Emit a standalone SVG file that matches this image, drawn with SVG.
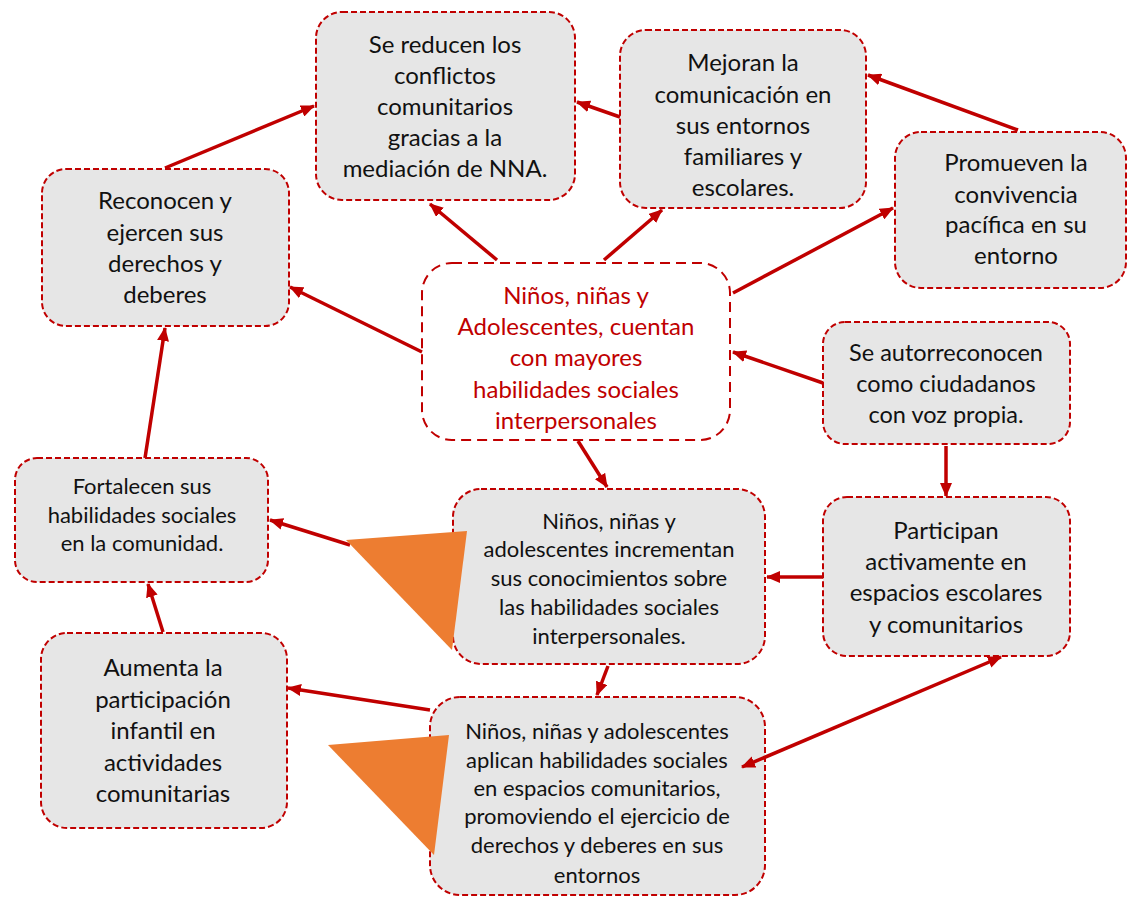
<svg xmlns="http://www.w3.org/2000/svg" width="1128" height="897" viewBox="0 0 1128 897">
<defs>
<style>
.box{fill:#E6E6E6;stroke:#C00000;stroke-width:2;stroke-dasharray:6 3}
.cbox{fill:#FFFFFF;stroke:#C00000;stroke-width:2;stroke-dasharray:10 6}
.t{font-family:Lato,"Liberation Sans",sans-serif;fill:#111111;text-anchor:middle}
.tr{fill:#C00000}
.c line{stroke:#C00000;stroke-width:3.5;marker-end:url(#ah)}
.tri{fill:#ED7D31}
</style>
<marker id="ah" markerUnits="userSpaceOnUse" markerWidth="14" markerHeight="12" refX="13" refY="6" orient="auto-start-reverse" viewBox="0 0 14 12">
<path d="M0,0 L14,6 L0,12 z" fill="#C00000"/>
</marker>
</defs>
<rect width="1128" height="897" fill="#FFFFFF"/>
<g id="n1"><rect class="box" x="316" y="12" width="259" height="188" rx="26"/>
<text class="t" font-size="24"><tspan x="445" y="53">Se reducen los</tspan><tspan x="445" y="84">conflictos</tspan><tspan x="445" y="115">comunitarios</tspan><tspan x="445" y="146">gracias a la</tspan><tspan x="445" y="177">mediación de NNA.</tspan></text></g>
<g id="n2"><rect class="box" x="620" y="30" width="246" height="178" rx="26"/>
<text class="t" font-size="24"><tspan x="743" y="71">Mejoran la</tspan><tspan x="743" y="103">comunicación en</tspan><tspan x="743" y="134">sus entornos</tspan><tspan x="743" y="165">familiares y</tspan><tspan x="743" y="196">escolares.</tspan></text></g>
<g id="n3"><rect class="box" x="895" y="132" width="231" height="156" rx="26"/>
<text class="t" font-size="24"><tspan x="1016" y="171">Promueven la</tspan><tspan x="1016" y="203">convivencia</tspan><tspan x="1016" y="233">pacífica en su</tspan><tspan x="1016" y="264">entorno</tspan></text></g>
<g id="n4"><rect class="box" x="42" y="169" width="247" height="157" rx="24"/>
<text class="t" font-size="24"><tspan x="165" y="209">Reconocen y</tspan><tspan x="165" y="241">ejercen sus</tspan><tspan x="165" y="272">derechos y</tspan><tspan x="165" y="303">deberes</tspan></text></g>
<g id="n5"><rect class="cbox" x="422" y="263" width="308" height="177" rx="30"/>
<text class="t tr" font-size="24"><tspan x="576" y="304">Niños, niñas y</tspan><tspan x="576" y="335">Adolescentes, cuentan</tspan><tspan x="576" y="366">con mayores</tspan><tspan x="576" y="398">habilidades sociales</tspan><tspan x="576" y="429">interpersonales</tspan></text></g>
<g id="n6"><rect class="box" x="823" y="322" width="247" height="122" rx="22"/>
<text class="t" font-size="23.5"><tspan x="946" y="361">Se autorreconocen</tspan><tspan x="946" y="392">como ciudadanos</tspan><tspan x="946" y="423">con voz propia.</tspan></text></g>
<g id="n7"><rect class="box" x="15" y="458" width="253" height="124" rx="22"/>
<text class="t" font-size="22"><tspan x="142" y="494">Fortalecen sus</tspan><tspan x="142" y="523">habilidades sociales</tspan><tspan x="142" y="551">en la comunidad.</tspan></text></g>
<g id="n8"><rect class="box" x="453" y="489" width="312" height="175" rx="28"/>
<text class="t" font-size="22"><tspan x="609" y="529">Niños, niñas y</tspan><tspan x="609" y="557">adolescentes incrementan</tspan><tspan x="609" y="586">sus conocimientos sobre</tspan><tspan x="609" y="615">las habilidades sociales</tspan><tspan x="609" y="644">interpersonales.</tspan></text></g>
<g id="n9"><rect class="box" x="823" y="497" width="247" height="159" rx="24"/>
<text class="t" font-size="24"><tspan x="946" y="539">Participan</tspan><tspan x="946" y="570">activamente en</tspan><tspan x="946" y="601">espacios escolares</tspan><tspan x="946" y="633">y comunitarios</tspan></text></g>
<g id="n10"><rect class="box" x="41" y="633" width="246" height="195" rx="26"/>
<text class="t" font-size="24"><tspan x="163" y="676">Aumenta la</tspan><tspan x="163" y="708">participación</tspan><tspan x="163" y="739">infantil en</tspan><tspan x="163" y="771">actividades</tspan><tspan x="163" y="802">comunitarias</tspan></text></g>
<g id="n11"><rect class="box" x="430" y="697" width="335" height="198" rx="30"/>
<text class="t" font-size="22"><tspan x="597" y="739">Niños, niñas y adolescentes</tspan><tspan x="597" y="768">aplican habilidades sociales</tspan><tspan x="597" y="796">en espacios comunitarios,</tspan><tspan x="597" y="824">promoviendo el ejercicio de</tspan><tspan x="597" y="853">derechos y deberes en sus</tspan><tspan x="597" y="883">entornos</tspan></text></g>
<g id="connectors" class="c">
<line x1="165" y1="168" x2="314" y2="106"/>
<line x1="620" y1="117" x2="577" y2="102"/>
<line x1="1018" y1="130" x2="868" y2="75"/>
<line x1="497" y1="260" x2="430" y2="204"/>
<line x1="604" y1="260" x2="662" y2="210"/>
<line x1="733" y1="293" x2="893" y2="208"/>
<line x1="422" y1="352" x2="290" y2="287"/>
<line x1="823" y1="383" x2="733" y2="352"/>
<line x1="578" y1="441" x2="607" y2="487"/>
<line x1="946" y1="446" x2="946" y2="496"/>
<line x1="823" y1="577" x2="767" y2="577"/>
<line x1="350" y1="545" x2="270" y2="520"/>
<line x1="145" y1="458" x2="165" y2="328"/>
<line x1="163" y1="632" x2="148" y2="584"/>
<line x1="430" y1="710" x2="288" y2="688"/>
<line x1="608" y1="666" x2="597" y2="695"/>
<line x1="742" y1="767" x2="1001" y2="657" style="marker-start:url(#ah)"/>
</g>
<g id="shapes">
<polygon class="tri" points="346,540 467,531 452,650"/>
<polygon class="tri" points="328,745 449,735 434,855"/>
</g>
</svg>
